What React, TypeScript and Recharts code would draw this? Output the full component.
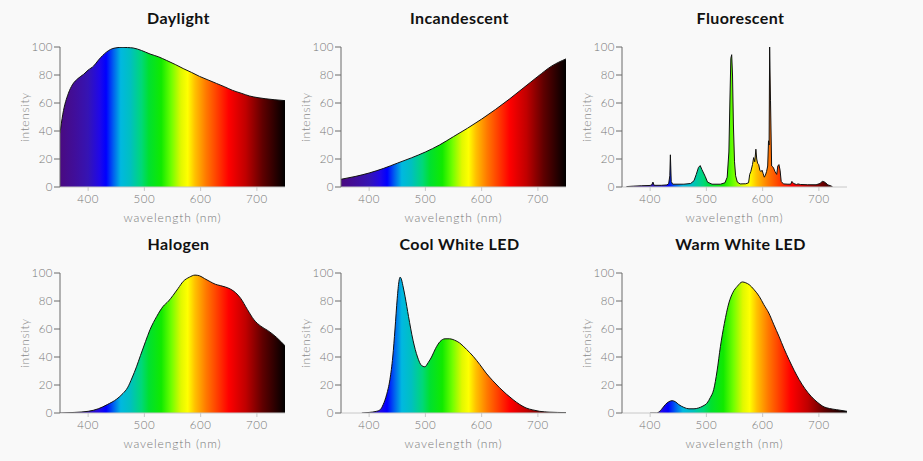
import React from 'react';
import { AreaChart, Area, XAxis, YAxis } from 'recharts';

// Relative spectral power (0–100) per lamp, sampled along wavelength (nm)
const daylightNm = [350, 355, 365, 372, 382, 392, 400, 410, 418, 426, 433, 440, 448, 455, 462, 470, 480, 495, 510, 525, 539, 555, 569, 584, 598, 613, 628, 643, 657, 672, 687, 702, 716, 732, 750];
const daylightValues = [38.5, 52, 67, 73, 77.5, 80.5, 83.5, 86.5, 90.5, 94, 96.5, 98.3, 99.3, 99.7, 99.8, 99.6, 99.3, 97.5, 95, 93, 90.5, 87.5, 84.6, 81.8, 79, 76.5, 74, 71.5, 69, 67, 65, 63.8, 63, 62.3, 61.7];

const incandescentNm = [350, 375, 400, 425, 450, 475, 500, 525, 550, 575, 600, 625, 650, 675, 700, 725, 750];
const incandescentValues = [5.5, 7.5, 10, 13.2, 17, 20.8, 25, 30, 36, 42, 48.5, 55.5, 63, 71, 79, 86.5, 91.5];

const fluorescentNm = [358, 370, 385, 400, 403, 405, 407, 420, 430, 433, 435, 436, 437.5, 440, 460, 472, 478, 482, 486, 489, 492, 495, 498, 502, 510, 525, 533, 537, 540, 542, 543.5, 545, 546.5, 548, 550, 552, 555, 560, 570, 575, 577, 579, 582, 584, 586, 588, 589.5, 591, 593, 595, 597, 599, 601, 603, 605, 607, 609, 610.5, 611.5, 612.5, 614, 616, 619, 622, 625, 627, 629, 631, 633, 637, 645, 650, 652, 655, 660, 663, 667, 680, 695, 702, 706, 709, 712, 716, 720, 724];
const fluorescentValues = [0.3, 0.6, 0.9, 1.1, 1.6, 3.5, 1.2, 1.2, 1.5, 2.5, 8, 23, 4, 2, 2, 2.5, 4.5, 9, 14, 15.3, 12.5, 10, 7.5, 3.5, 2, 2, 3, 7, 25, 65, 92, 94.5, 80, 45, 18, 8, 3.5, 2.2, 2.3, 3, 9, 11, 16, 21, 18, 27, 20, 17, 16, 12, 11, 12, 9.5, 7, 8.5, 11, 15, 33, 30, 100, 62, 15, 14, 11, 9, 15, 16, 12, 4, 2.2, 2, 2, 4, 2.5, 1.8, 2.2, 1.8, 1.6, 1.6, 2.5, 4, 3.8, 3, 1.5, 1, 0.3];

const halogenNm = [350, 375, 400, 418, 434, 451, 462, 470, 478, 486, 493, 502, 510, 522, 533, 543, 551, 560, 569, 580, 590, 598, 607, 617, 626, 635, 644, 653, 662, 671, 683, 695, 707, 719, 735, 750];
const halogenValues = [0, 0.4, 1.2, 3, 6, 10, 14, 18, 25, 33, 41, 51, 59.5, 69, 76, 80, 84, 89, 94, 97, 98.5, 98, 96, 93.8, 92, 91, 90, 88.5, 86, 82, 74, 66.5, 62, 59, 54, 48];

const coolWhiteNm = [387, 400, 413, 420, 425, 431, 437, 442, 446, 450, 453, 455, 457, 460, 464, 470, 478, 486, 493, 499, 505, 511, 518, 526, 535, 543, 552, 561, 573, 585, 597, 608, 620, 632, 644, 656, 668, 679, 691, 703, 720, 750];
const coolWhiteValues = [0, 0.4, 1.2, 2.5, 6, 13, 24, 40, 60, 82, 94, 97, 96, 91, 83, 69, 52, 40, 34, 33, 36, 40, 46, 51, 53, 53, 52, 50, 45.5, 40.5, 34.5, 28.5, 23, 18, 13.5, 9.5, 6, 3.6, 2.2, 1.2, 0.6, 0.3];

const warmWhiteNm = [400, 412, 420, 427, 433, 439, 445, 451, 460, 469, 478, 486, 494, 501, 507, 513, 519, 525, 532, 540, 547, 555, 564, 570, 576, 585, 594, 602, 611, 620, 629, 638, 647, 656, 665, 675, 686, 697, 707, 719, 731, 750];
const warmWhiteValues = [0, 0, 2.5, 6, 8, 8.8, 8, 6, 4, 3, 3, 3.6, 5, 7, 11, 16.7, 30, 47.6, 64, 78.6, 86, 90.5, 93.6, 93, 91.7, 88, 83.3, 77.5, 71.4, 63, 54.8, 46, 38, 30.5, 23.8, 17.5, 12, 7.8, 4.8, 3.2, 2.4, 1.2];

const wavelengthTicks = [400, 500, 600, 700];
const intensityTicks = [0, 20, 40, 60, 80, 100];

// Visible spectrum colour stops (wavelength nm → colour)
const spectrumNm = [350, 380, 400, 420, 432, 445, 458, 475, 495, 508, 530, 548, 565, 577, 590, 610, 630, 650, 680, 710, 750];
const spectrumColors = ['#4a0a80', '#3f0f9e', '#3514b4', '#2008e8', '#0000ff', '#0060f0', '#00b8e0', '#00c0c0', '#00d878', '#00e030', '#10ea00', '#70ff00', '#e0f800', '#ffff00', '#ffc000', '#ff7800', '#ff3c00', '#ff0000', '#c00000', '#600000', '#000000'];

const panels = [
  { id: 'daylight', title: 'Daylight', nm: daylightNm, values: daylightValues },
  { id: 'incandescent', title: 'Incandescent', nm: incandescentNm, values: incandescentValues },
  { id: 'fluorescent', title: 'Fluorescent', nm: fluorescentNm, values: fluorescentValues, linear: true },
  { id: 'halogen', title: 'Halogen', nm: halogenNm, values: halogenValues },
  { id: 'coolWhite', title: 'Cool White LED', nm: coolWhiteNm, values: coolWhiteValues },
  { id: 'warmWhite', title: 'Warm White LED', nm: warmWhiteNm, values: warmWhiteValues },
];

const FONT = 'Lato, "Open Sans", sans-serif';
const CHART_W = 300;
const CHART_H = 226;
const MARGIN = { top: 47, right: 15, bottom: 0, left: 0 };
const Y_AXIS_W = 60;
const X_AXIS_H = 39;
const DOMAIN_MIN = 350;
const DOMAIN_MAX = 750;

type Panel = (typeof panels)[number];

function SpectrumPanel({ panel, left, top }: { panel: Panel; left: number; top: number }) {
  const data = panel.nm.map((nm, i) => ({ nm, value: panel.values[i] }));
  const plotLeft = MARGIN.left + Y_AXIS_W;
  const plotRight = CHART_W - MARGIN.right;
  const gradId = `spectrum-${panel.id}`;

  return (
    <div style={{ position: 'absolute', left, top, width: CHART_W, height: CHART_H }}>
      <div
        style={{
          position: 'absolute',
          left: plotLeft + 6,
          width: plotRight - plotLeft,
          top: 8,
          textAlign: 'center',
          fontFamily: FONT,
          fontWeight: 700,
          fontSize: 16,
          letterSpacing: 0.4,
          color: '#111',
        }}
      >
        {panel.title}
      </div>
      <AreaChart width={CHART_W} height={CHART_H} data={data} margin={MARGIN}>
        <defs>
          <linearGradient id={gradId} gradientUnits="userSpaceOnUse" x1={plotLeft} x2={plotRight} y1={0} y2={0}>
            {spectrumNm.map((nm, i) => (
              <stop
                key={nm}
                offset={(nm - DOMAIN_MIN) / (DOMAIN_MAX - DOMAIN_MIN)}
                stopColor={spectrumColors[i]}
              />
            ))}
          </linearGradient>
        </defs>
        <XAxis
          dataKey="nm"
          type="number"
          domain={[DOMAIN_MIN, DOMAIN_MAX]}
          ticks={wavelengthTicks}
          allowDataOverflow
          height={X_AXIS_H}
          stroke="#c8c8c8"
          tickSize={4}
          tickMargin={4}
          tick={{ fontSize: 11.5, fill: '#777', fontFamily: FONT, fontWeight: 300, letterSpacing: 0.5 }}
          label={{
            value: 'wavelength (nm)',
            position: 'insideBottom',
            offset: 4,
            style: { fontSize: 12, fill: '#777', fontFamily: FONT, fontWeight: 300, letterSpacing: 0.9 },
          }}
        />
        <YAxis
          type="number"
          domain={[0, 100]}
          ticks={intensityTicks}
          allowDataOverflow
          width={Y_AXIS_W}
          stroke="#6a6a6a"
          tickSize={6}
          tickMargin={1}
          tick={{ fontSize: 11.5, fill: '#777', fontFamily: FONT, fontWeight: 300, letterSpacing: 0.5 }}
          label={{
            value: 'intensity',
            angle: -90,
            position: 'insideLeft',
            offset: 25,
            style: { fontSize: 12, fill: '#888', fontFamily: FONT, fontWeight: 300, letterSpacing: 0.6, textAnchor: 'middle' },
          }}
        />
        <Area
          dataKey="value"
          type={panel.linear ? 'linear' : 'monotone'}
          stroke="#111"
          strokeWidth={1}
          fill={`url(#${gradId})`}
          fillOpacity={1}
          dot={false}
          activeDot={false}
          isAnimationActive={false}
        />
      </AreaChart>
    </div>
  );
}

export default function App() {
  return (
    <div
      style={{
        position: 'absolute',
        left: 0,
        top: 0,
        width: 923,
        height: 461,
        background: '#f9f9f9',
        overflow: 'hidden',
      }}
    >
      {panels.map((panel, i) => (
        <SpectrumPanel
          key={panel.id}
          panel={panel}
          left={(i % 3) * 281}
          top={Math.floor(i / 3) * 226}
        />
      ))}
    </div>
  );
}
